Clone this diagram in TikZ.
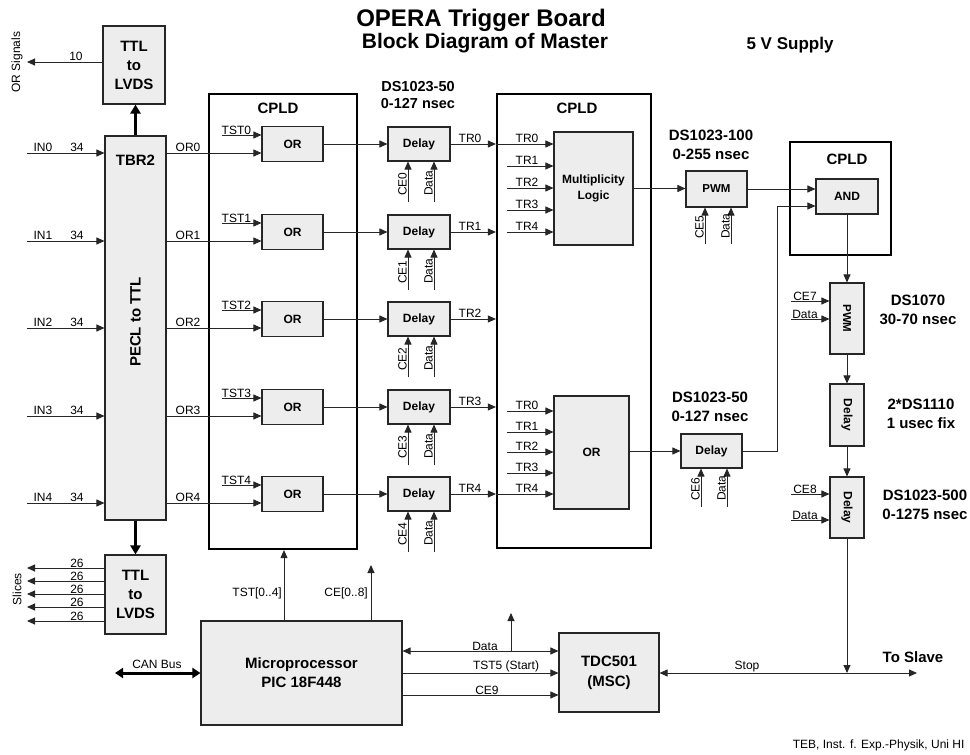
\documentclass[tikz,border=0pt]{standalone}
\usepackage{fontspec}
\setmainfont{Liberation Sans}
\usetikzlibrary{arrows.meta,calc}
\begin{document}
\begin{tikzpicture}[x=1pt,y=-1pt,
  blk/.style={draw=black!85, fill=black!7, line width=1.1pt, inner sep=0pt, align=center, font=\bfseries\fontsize{12}{16}\selectfont},
  cpldbox/.style={draw=black, line width=2.2pt, inner sep=0pt},
  lbl/.style={font=\fontsize{12}{14}\selectfont, inner sep=1pt},
  hdr/.style={font=\bfseries\fontsize{15}{18}\selectfont, align=center, inner sep=0pt},
  bigtxt/.style={font=\bfseries\fontsize{15}{19}\selectfont, align=center, inner sep=0pt},
  con/.style={draw=black!85, line width=0.9pt},
  sig/.style={con, -{Triangle[length=8pt,width=7pt]}},
  bsig/.style={con, {Triangle[length=8pt,width=7pt]}-{Triangle[length=8pt,width=7pt]}},
  fat/.style={draw=black, line width=3.6pt, -{Triangle[length=9pt,width=10pt]}},
  fatb/.style={draw=black, line width=3pt, {Triangle[length=8pt,width=10pt]}-{Triangle[length=8pt,width=10pt]}}
]
\fill[white] (0,0) rectangle (970,755);
\useasboundingbox (0,0) rectangle (970,755);

% titles
\node[font=\bfseries\fontsize{24}{28}\selectfont] (title) at (481,20) {OPERA Trigger Board};
\node[font=\bfseries\fontsize{21}{24}\selectfont] (subtitle) at (485,43) {Block Diagram of Master};
\node[font=\bfseries\fontsize{17}{20}\selectfont] (supply) at (790,45) {5 V Supply};

% left column
\node[blk, minimum width=62, minimum height=78, font=\bfseries\fontsize{15}{19}\selectfont] (ttl1) at (134,65) {TTL\\to\\LVDS};
\node[blk, minimum width=61, minimum height=384] (tbr) at (135.5,328) {};
\node[bigtxt] (tbrtxt) at (135.5,160) {TBR2};
\node[bigtxt, rotate=90] (pecl) at (135.5,322) {PECL to TTL};
\node[blk, minimum width=61, minimum height=79, font=\bfseries\fontsize{15}{19}\selectfont] (ttl2) at (135.5,594.5) {TTL\\to\\LVDS};

\draw[fat] (tbr.north) -- (tbr.north |- ttl1.south);
\draw[fat] (tbr.south) -- (tbr.south |- ttl2.north);

\coordinate (orsig) at (27,62);
\draw[sig] (ttl1.west |- orsig) -- (orsig);
\node[lbl, above] (l10) at (76,62) {10};
\node[lbl, rotate=90] (orsiglbl) at (17,62) {OR Signals};

\foreach \k/\yy in {0/568,1/581,2/594,3/607,4/621}{
  \coordinate (sl\k) at (27,\yy);
  \draw[sig] (ttl2.west |- sl\k) -- (sl\k);
  \node[lbl, above, inner sep=0.5pt] (sll\k) at (77,\yy) {26};
}
\node[lbl, rotate=90] (slices) at (17,589) {Slices};

% CPLD boxes
\node[cpldbox, minimum width=148, minimum height=455] (cpld1) at (283,321.5) {};
\node[hdr] (cpld1t) at (278,108) {CPLD};
\node[cpldbox, minimum width=154, minimum height=454] (cpld2) at (574,321) {};
\node[hdr] (cpld2t) at (577,108) {CPLD};
\node[cpldbox, minimum width=101, minimum height=113] (cpld3) at (840.5,198.5) {};
\node[hdr] (cpld3t) at (847,159) {CPLD};

% rows
\foreach \i/\c in {0/144,1/232,2/319,3/407,4/494}{
  \coordinate (in\i) at (27,\c+9);
  \draw[sig] (in\i) -- (in\i -| tbr.west);
  \node[lbl, above] (inl\i) at (43,\c+9) {IN\i};
  \node[lbl, above] (inn\i) at (77,\c+9) {34};
  \node[blk, minimum width=61, minimum height=35] (or\i) at (292.5,\c) {OR};
  \draw[sig] (tbr.east |- in\i) -- (or\i.west |- in\i);
  \node[lbl, above] (orl\i) at (188,\c+9) {OR\i};
  \coordinate (tst\i) at (222,\c-9);
  \draw[sig] (tst\i) -- (tst\i -| or\i.west);
  \node[lbl, above right, inner sep=0.5pt] (tstl\i) at (221,\c-9) {TST\i};
  \node[blk, minimum width=62, minimum height=34] (dl\i) at (419,\c) {Delay};
  \draw[sig] (or\i) -- (dl\i);
  \coordinate (ce\i) at (408,\c+58);
  \draw[sig] (ce\i) -- (ce\i |- dl\i.south);
  \node[lbl, rotate=90, anchor=south] (cel\i) at (408,\c+40) {CE\i};
  \coordinate (da\i) at (434,\c+58);
  \draw[sig] (da\i) -- (da\i |- dl\i.south);
  \node[lbl, rotate=90, anchor=south] (dal\i) at (434,\c+39) {Data};
  \draw[sig] (dl\i) -- (dl\i -| cpld2.west);
  \node[lbl, above] (trl\i) at (470,\c) {TR\i};
}
\node[font=\bfseries\fontsize{14.5}{17}\selectfont, align=center] (ds50a) at (418,95.5) {DS1023-50\\0-127 nsec};

% multiplicity logic
\node[blk, minimum width=79, minimum height=113] (mult) at (593.5,188.5) {Multiplicity\\Logic};
\foreach \k/\yy in {0/144,1/166,2/188,3/210,4/232}{
  \coordinate (mi\k) at (507,\yy);
  \node[lbl, above] (mil\k) at (527,\yy) {TR\k};
}
\draw[sig] (cpld2.west |- mi0) -- (mi0 -| mult.west);
\foreach \k in {1,2,3,4}{ \draw[sig] (mi\k) -- (mi\k -| mult.west); }

% bottom OR
\node[blk, minimum width=75, minimum height=113] (bor) at (591.5,452.5) {OR};
\foreach \k/\yy in {0/411,1/432,2/452,3/473,4/494}{
  \coordinate (bi\k) at (507,\yy);
  \node[lbl, above] (bil\k) at (527,\yy) {TR\k};
}
\foreach \k in {0,1,2,3}{ \draw[sig] (bi\k) -- (bi\k -| bor.west); }
\draw[sig] (cpld2.west |- bi4) -- (bi4 -| bor.west);

% PWM DS1023-100
\node[blk, minimum width=61, minimum height=36, font=\bfseries\fontsize{11.5}{14}\selectfont] (pwm1) at (716.5,189) {PWM};
\node[hdr, font=\bfseries\fontsize{15}{19}\selectfont] (ds100) at (711,144.5) {DS1023-100\\0-255 nsec};
\draw[sig] (mult.east) -- (mult.east -| pwm1.west);
\coordinate (ce5) at (705,244);
\coordinate (da5) at (731,244);
\draw[sig] (ce5) -- (ce5 |- pwm1.south);
\draw[sig] (da5) -- (da5 |- pwm1.south);
\node[lbl, rotate=90, anchor=south] (cel5) at (705,227) {CE5};
\node[lbl, rotate=90, anchor=south] (dal5) at (731,226) {Data};

% AND
\node[blk, minimum width=62, minimum height=35] (and) at (847,196.5) {AND};
\draw[sig] (pwm1.east) -- (pwm1.east -| and.west);

% second delay DS1023-50
\node[blk, minimum width=61, minimum height=34] (dl6) at (711.5,451) {Delay};
\node[hdr, font=\bfseries\fontsize{15}{19}\selectfont] (ds50b) at (710,406.5) {DS1023-50\\0-127 nsec};
\draw[sig] (bor.east |- dl6.west) -- (dl6.west);
\coordinate (ce6) at (701,507);
\coordinate (da6) at (727,507);
\draw[sig] (ce6) -- (ce6 |- dl6.south);
\draw[sig] (da6) -- (da6 |- dl6.south);
\node[lbl, rotate=90, anchor=south] (cel6) at (701,489) {CE6};
\node[lbl, rotate=90, anchor=south] (dal6) at (727,488) {Data};
\coordinate (bend) at (777,206);
\draw[sig] (dl6.east) -| (bend) -- (bend -| and.west);

% right column
\node[blk, minimum width=34, minimum height=71] (pwm2) at (847,318.5) {};
\node[font=\bfseries\fontsize{11.5}{14}\selectfont, rotate=-90] (pwm2t) at (847,318.5) {PWM};
\node[blk, minimum width=34, minimum height=62] (dl7) at (847,415) {};
\node[font=\bfseries\fontsize{12}{14}\selectfont, rotate=-90] (dl7t) at (847,415) {Delay};
\node[blk, minimum width=34, minimum height=61] (dl8) at (847,507.5) {};
\node[font=\bfseries\fontsize{12}{14}\selectfont, rotate=-90] (dl8t) at (847,507.5) {Delay};
\draw[sig] (and.south) -- (pwm2.north);
\draw[sig] (pwm2.south) -- (dl7.north);
\draw[sig] (dl7.south) -- (dl8.north);

\node[hdr, font=\bfseries\fontsize{15}{19}\selectfont] (ds1070) at (918,310) {DS1070\\30-70 nsec};
\node[hdr, font=\bfseries\fontsize{15}{19}\selectfont] (ds1110) at (921,413.5) {2*DS1110\\1 usec fix};
\node[hdr, font=\bfseries\fontsize{15}{19}\selectfont] (ds500) at (925,504.5) {DS1023-500\\0-1275 nsec};

\foreach \n/\yy/\t in {ce7/301/CE7, da7/319/Data}{
  \coordinate (\n) at (791,\yy);
  \draw[sig] (\n) -- (\n -| pwm2.west);
  \node[lbl, above, inner sep=0.5pt] (\n l) at (805,\yy) {\t};
}
\foreach \n/\yy/\t in {ce8/494/CE8, da8/520/Data}{
  \coordinate (\n) at (791,\yy);
  \draw[sig] (\n) -- (\n -| dl8.west);
  \node[lbl, above, inner sep=0.5pt] (\n l) at (805,\yy) {\t};
}

% bottom
\node[blk, minimum width=201, minimum height=104, font=\bfseries\fontsize{15}{19}\selectfont] (micro) at (301.5,673) {Microprocessor\\PIC 18F448};
\node[blk, minimum width=100, minimum height=79, font=\bfseries\fontsize{15}{20}\selectfont] (tdc) at (609,672.5) {TDC501\\(MSC)};

\coordinate (can) at (115,673);
\draw[fatb] (can) -- (micro.west);
\node[lbl, above] (canl) at (157,670) {CAN Bus};

\coordinate (tstb) at (284,0);
\draw[sig] (tstb |- micro.north) -- (tstb |- cpld1.south);
\node[lbl, anchor=east] (tstbl) at (283,593) {TST[0..4]};
\coordinate (ceb) at (371,565);
\draw[sig] (ceb |- micro.north) -- (ceb);
\node[lbl, anchor=east] (cebl) at (369,593) {CE[0..8]};

\coordinate (datay) at (480,651);
\draw[bsig] (micro.east |- datay) -- (tdc.west |- datay);
\coordinate (dataup) at (511,613);
\draw[sig] (dataup |- datay) -- (dataup);
\node[lbl, above, inner sep=0.5pt] (datal) at (485,651) {Data};
\coordinate (tst5) at (480,673);
\draw[sig] (micro.east |- tst5) -- (tdc.west |- tst5);
\node[lbl, above, inner sep=0.5pt] (tst5l) at (506,673) {TST5 (Start)};
\coordinate (ce9) at (480,695);
\draw[sig] (micro.east |- ce9) -- (tdc.west |- ce9);
\node[lbl, above, inner sep=0.5pt] (ce9l) at (487,695) {CE9};

\coordinate (toslave) at (917,673);
\draw[bsig] (tdc.east |- toslave) -- (toslave);
\draw[sig] (dl8.south) -- (dl8.south |- toslave);
\node[lbl, above, inner sep=1pt] (stopl) at (747,673) {Stop};
\node[font=\bfseries\fontsize{15}{18}\selectfont] (slave) at (913,657) {To Slave};
\node[font=\fontsize{12}{14}\selectfont, anchor=east] (credit) at (968,745) {TEB, Inst. f. Exp.-Physik, Uni HI};
\end{tikzpicture}
\end{document}
